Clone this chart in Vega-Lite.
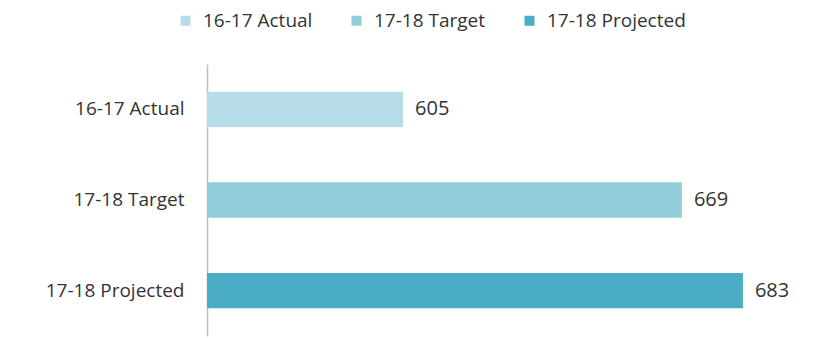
{
  "$schema": "https://vega.github.io/schema/vega-lite/v6.json",
  "width": 610,
  "height": 272,
  "autosize": {"type": "none"},
  "padding": {"left": 207, "top": 64, "right": 3, "bottom": 2},
  "background": "white",
  "data": {"values": [
    {"category": "16-17 Actual", "value": 605},
    {"category": "17-18 Target", "value": 669},
    {"category": "17-18 Projected", "value": 683}
  ]},
  "encoding": {
    "y": {"field": "category", "type": "nominal", "sort": null,
      "scale": {"paddingInner": 0.61, "paddingOuter": 0.305},
      "axis": {"title": null, "ticks": false, "labelFont": "Open Sans", "labelFontSize": 19, "labelColor": "#333333", "labelPadding": 23, "domainColor": "#bfbfbf", "domainWidth": 1.5}},
    "x": {"field": "value", "type": "quantitative", "scale": {"domain": [560, 700], "zero": false, "nice": false}, "axis": null}
  },
  "layer": [
    {"mark": {"type": "bar", "clip": true},
     "encoding": {
       "color": {"field": "category", "type": "nominal", "sort": null,
         "scale": {"domain": ["16-17 Actual", "17-18 Target", "17-18 Projected"], "range": ["#b7dee8", "#92cddc", "#4bacc6"]},
         "legend": {"title": null, "orient": "none", "direction": "horizontal", "legendX": -31, "legendY": -53, "symbolType": "square", "symbolSize": 100, "symbolStrokeWidth": 0, "labelFont": "Open Sans", "labelFontSize": 19, "labelColor": "#333333", "columnPadding": 34, "labelOffset": 8}}
     }},
    {"mark": {"type": "text", "align": "left", "dx": 12, "font": "Open Sans", "fontSize": 20, "color": "#333333"},
     "encoding": {"text": {"field": "value", "type": "quantitative"}}}
  ],
  "config": {"view": {"stroke": null}}
}
